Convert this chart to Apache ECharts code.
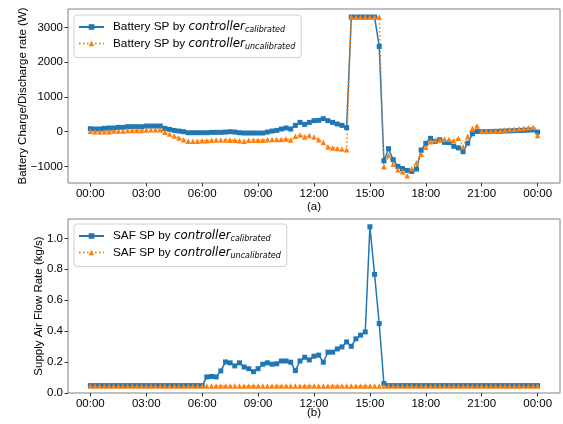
<!DOCTYPE html>
<html>
<head>
<meta charset="utf-8">
<script src="https://cdn.jsdelivr.net/npm/echarts@6/dist/echarts.min.js"></script>
<style>
html,body{margin:0;padding:0;background:#fff;}
#chart{width:563px;height:424px;}
</style>
</head>
<body>
<div id="chart"></div>
<script>
// time step: 15 minutes, 97 samples from 00:00 to 24:00 (hours)
const stepHours = 0.25;
const xTicks = [0, 3, 6, 9, 12, 15, 18, 21, 24];
const batteryTicks = [-1000, 0, 1000, 2000, 3000];
const safTicks = [0, 0.2, 0.4, 0.6, 0.8, 1.0];

const batteryCalibrated = [
  86, 77, 77, 96, 106, 106, 125, 125, 144, 144, 144, 144, 163, 163, 163, 163,
  96, 67, 38, 19, 0, -29, -29, -29, -29, -29,
  -19, -19, -19, -10, 0, -10, -29, -38, -38, -38, -38, -38, -10, 19, 38, 77, 106, 77, 182, 268, 211, 268, 317, 326, 374, 317, 268, 221, 182, 115,
  3300, 3300, 3300, 3300, 3300, 3300,
  2455,
  -835, -489, -806, -998, -1060, -1113, -1142, -1074, -528, -335, -190, -278, -230, -307, -315, -420, -465, -575, -330, -60,
  5, 0, 0, 5, 10, 15, 20, 25, 30, 35, 40, 45, 50, -10
];
const batteryUncalibrated = [
  10, 0, 0, 0, 0, 19, 19, 19, 38, 38, 38, 38, 48, 58, 58, 58,
  -19, -67, -125, -182, -230, -278, -278, -278, -259, -259,
  -249, -240, -240, -240, -249, -249, -259, -278, -249, -249, -249, -249, -230, -221, -221, -221, -211, -240, -134, -96, -153, -106, -153, -230, -307, -441, -470, -480, -499, -518,
  3300, 3300, 3300, 3300, 3300, 3300, 3300,
  -1010, -680, -935, -1093, -1155, -1266, -1060, -890, -650, -445, -290, -240, -240, -220, -220, -260, -190, -430, -140, 100,
  165, 10, 15, 20, 30, 40, 50, 60, 70, 85, 100, 115, 130, -110
];
const safCalibrated = [
  0.048, 0.048, 0.048, 0.048, 0.048, 0.048, 0.048, 0.048, 0.048, 0.048, 0.048, 0.048, 0.048,
  0.048, 0.048, 0.048, 0.048, 0.048, 0.048, 0.048, 0.048, 0.048, 0.048, 0.048, 0.048,
  0.104, 0.107, 0.104, 0.143, 0.201, 0.195, 0.175, 0.195, 0.168, 0.157, 0.138, 0.157, 0.186, 0.195, 0.186, 0.189, 0.207, 0.207, 0.199, 0.145, 0.207,
  0.231, 0.214, 0.238, 0.245, 0.199, 0.264, 0.264, 0.285, 0.298, 0.330, 0.302, 0.350, 0.374, 0.395, 1.075, 0.767, 0.449, 0.061,
  0.048, 0.048, 0.048, 0.048, 0.048, 0.048, 0.048, 0.048, 0.048, 0.048, 0.048, 0.048, 0.048, 0.048, 0.048, 0.048, 0.048,
  0.048, 0.048, 0.048, 0.048, 0.048, 0.048, 0.048, 0.048, 0.048, 0.048, 0.048, 0.048, 0.048, 0.048, 0.048, 0.048
];
const safUncalibrated = [
  0.045, 0.045, 0.045, 0.045, 0.045, 0.045, 0.045, 0.045, 0.045, 0.045, 0.045, 0.045, 0.045, 0.045, 0.045, 0.045,
  0.045, 0.045, 0.045, 0.045, 0.045, 0.045, 0.045, 0.045, 0.045, 0.045, 0.045, 0.045, 0.045, 0.045, 0.045, 0.045,
  0.045, 0.045, 0.045, 0.045, 0.045, 0.045, 0.045, 0.045, 0.045, 0.045, 0.045, 0.045, 0.045, 0.045, 0.045, 0.045,
  0.045, 0.045, 0.045, 0.045, 0.045, 0.045, 0.045, 0.045, 0.045, 0.045, 0.045, 0.045, 0.045, 0.045, 0.045, 0.045,
  0.045, 0.045, 0.045, 0.045, 0.045, 0.045, 0.045, 0.045, 0.045, 0.045, 0.045, 0.045, 0.045, 0.045, 0.045, 0.045,
  0.045, 0.045, 0.045, 0.045, 0.045, 0.045, 0.045, 0.045, 0.045, 0.045, 0.045, 0.045, 0.045, 0.045, 0.045, 0.045,
  0.045
];

const names = {
  bc: 'Battery SP by controller_calibrated',
  bu: 'Battery SP by controller_uncalibrated',
  sc: 'SAF SP by controller_calibrated',
  su: 'SAF SP by controller_uncalibrated'
};
const legendRich = {
  bc: '{n|Battery SP by }{i|controller}{s|calibrated}',
  bu: '{n|Battery SP by }{i|controller}{s|uncalibrated}',
  sc: '{n|SAF SP by }{i|controller}{s|calibrated}',
  su: '{n|SAF SP by }{i|controller}{s|uncalibrated}'
};

function pairs(arr) { return arr.map((v, i) => [i * stepHours, v]); }
function hh(h) { const v = Math.round(h) % 24; return (v < 10 ? '0' : '') + v + ':00'; }

const BLUE = '#1f77b4', ORANGE = '#ff7f0e';
const FONT = '"Liberation Sans", Arial, sans-serif';
const FS = 11.5;
const LFS = 11.8;
const frame = '#808080';

function legendFor(keys, top) {
  const map = {}; keys.forEach(k => map[names[k]] = legendRich[k]);
  return {
    orient: 'vertical', left: 74, top: top,
    data: keys.map(k => names[k]),
    backgroundColor: '#fff', borderColor: '#d0d0d0', borderWidth: 1, borderRadius: 3,
    padding: [6, 6, 7, 4], itemGap: 3.5, itemWidth: 25, itemHeight: 7,
    formatter: n => map[n],
    textStyle: {
      fontFamily: FONT, fontSize: LFS, color: '#000',
      rich: {
        n: { fontFamily: FONT, fontSize: LFS, color: '#000', padding: [0, 0, 0, 4] },
        i: { fontFamily: '"DejaVu Sans"', fontStyle: 'italic', fontSize: LFS, color: '#000' },
        s: { fontFamily: '"DejaVu Sans"', fontStyle: 'italic', fontSize: 8, color: '#000', padding: [6, 0, 0, 0] }
      }
    }
  };
}

function xAxisFor(gi) {
  return {
    type: 'value', gridIndex: gi, min: -1.2, max: 25.2,
    axisLine: { show: false, onZero: false },
    splitLine: { show: false },
    axisTick: { show: true, inside: false, length: 3.5, customValues: xTicks, lineStyle: { color: '#333' } },
    axisLabel: { customValues: xTicks, formatter: hh, fontFamily: FONT, fontSize: FS, color: '#000', margin: 5 }
  };
}

const option = {
  animation: false,
  backgroundColor: '#fff',
  grid: [
    { left: 68, top: 9, width: 492, height: 174, show: true, borderColor: frame, borderWidth: 1, backgroundColor: 'transparent' },
    { left: 68, top: 219, width: 492, height: 174, show: true, borderColor: frame, borderWidth: 1, backgroundColor: 'transparent' }
  ],
  legend: [legendFor(['bc', 'bu'], 15), legendFor(['sc', 'su'], 224)],
  xAxis: [xAxisFor(0), xAxisFor(1)],
  yAxis: [
    {
      type: 'value', gridIndex: 0, min: -1476, max: 3531,
      name: 'Battery Charge/Discharge rate (W)', nameLocation: 'middle', nameGap: 39, nameMoveOverlap: false,
      nameTextStyle: { fontFamily: FONT, fontSize: FS, color: '#000' },
      axisLine: { show: false, onZero: false }, splitLine: { show: false },
      axisTick: { show: true, length: 3.5, customValues: batteryTicks, lineStyle: { color: '#333' } },
      axisLabel: { customValues: batteryTicks, fontFamily: FONT, fontSize: FS, color: '#000', margin: 5,
        formatter: v => (v < 0 ? '\u2212' + Math.abs(v) : String(v)) }
    },
    {
      type: 'value', gridIndex: 1, min: 0, max: 1.125,
      name: 'Supply Air Flow Rate (kg/s)', nameLocation: 'middle', nameGap: 23.5, nameMoveOverlap: false,
      nameTextStyle: { fontFamily: FONT, fontSize: FS, color: '#000' },
      axisLine: { show: false, onZero: false }, splitLine: { show: false },
      axisTick: { show: true, length: 3.5, customValues: safTicks, lineStyle: { color: '#333' } },
      axisLabel: { customValues: safTicks, fontFamily: FONT, fontSize: FS, color: '#000', margin: 5,
        formatter: v => v.toFixed(1) }
    }
  ],
  graphic: [
    { type: 'text', style: { text: '(a)', x: 314, y: 207, align: 'center', verticalAlign: 'middle', font: FS + 'px "Liberation Sans", Arial', fill: '#000' } },
    { type: 'text', style: { text: '(b)', x: 314, y: 413, align: 'center', verticalAlign: 'middle', font: FS + 'px "Liberation Sans", Arial', fill: '#000' } }
  ],
  series: [
    { name: names.bc, type: 'line', xAxisIndex: 0, yAxisIndex: 0, data: pairs(batteryCalibrated),
      symbol: 'rect', symbolSize: 5, showAllSymbol: true, color: BLUE,
      lineStyle: { width: 1.5, color: BLUE }, itemStyle: { color: BLUE } },
    { name: names.bu, type: 'line', xAxisIndex: 0, yAxisIndex: 0, data: pairs(batteryUncalibrated),
      symbol: 'triangle', symbolSize: 5.5, showAllSymbol: true, color: ORANGE,
      lineStyle: { width: 1.5, color: ORANGE, type: [1.5, 2.5] }, itemStyle: { color: ORANGE } },
    { name: names.sc, type: 'line', xAxisIndex: 1, yAxisIndex: 1, data: pairs(safCalibrated),
      symbol: 'rect', symbolSize: 5, showAllSymbol: true, color: BLUE,
      lineStyle: { width: 1.5, color: BLUE }, itemStyle: { color: BLUE } },
    { name: names.su, type: 'line', xAxisIndex: 1, yAxisIndex: 1, data: pairs(safUncalibrated),
      symbol: 'triangle', symbolSize: 5.5, showAllSymbol: true, color: ORANGE,
      lineStyle: { width: 1.5, color: ORANGE, type: [1.5, 2.5] }, itemStyle: { color: ORANGE } }
  ]
};

const chart = echarts.init(document.getElementById('chart'), null, { renderer: 'canvas' });
chart.setOption(option);
</script>
</body>
</html>
